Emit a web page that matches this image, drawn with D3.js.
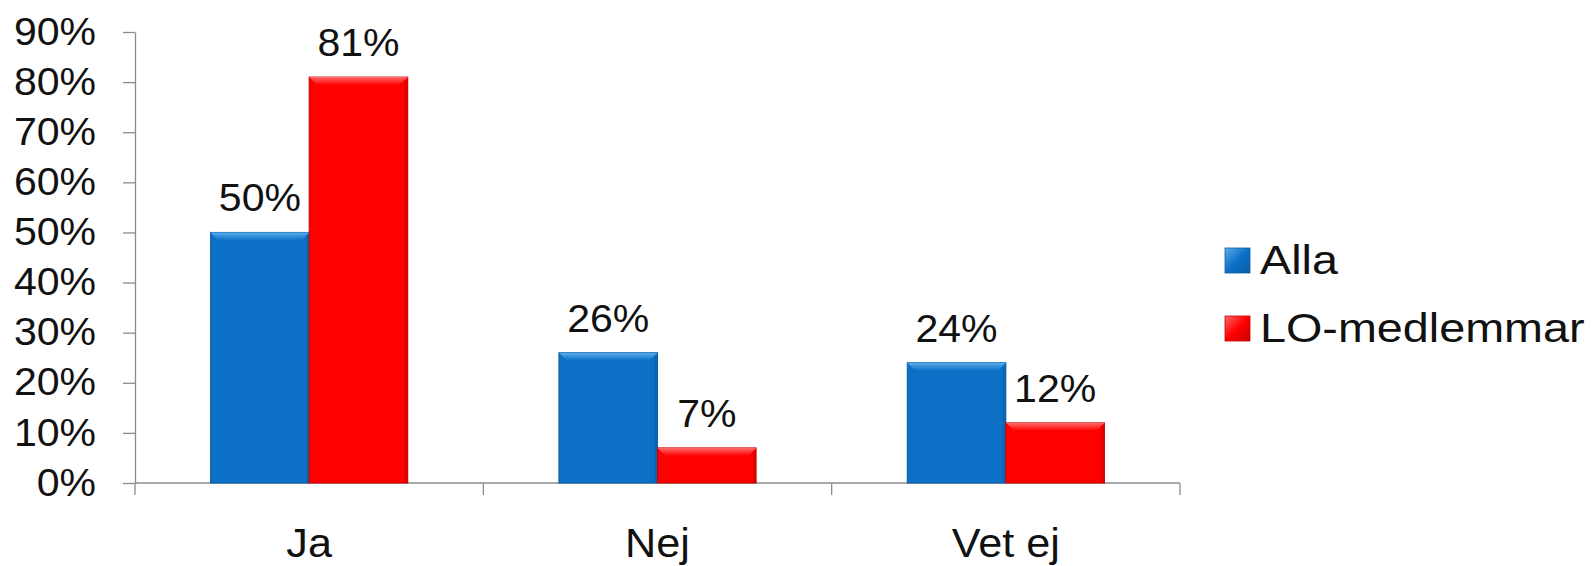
<!DOCTYPE html>
<html>
<head>
<meta charset="utf-8">
<script src="https://cdn.jsdelivr.net/npm/d3@7"></script>
<style>
  body { margin: 0; background: #fff; }
  svg text { font-family: "Liberation Sans", Arial, sans-serif; fill: #111; }
</style>
</head>
<body>
<div id="chart"></div>
<script>
// data
var categories = ["Ja", "Nej", "Vet ej"];
var series_names = ["Alla", "LO-medlemmar"];
var alla = [0.50, 0.26, 0.24];
var lo = [0.81, 0.07, 0.12];
var y_ticks = [0, 0.1, 0.2, 0.3, 0.4, 0.5, 0.6, 0.7, 0.8, 0.9];

var svg_width = 1596;
var svg_height = 566;

var colors = { "Alla": "#0B70C6", "LO-medlemmar": "#FF0000" };
var light = { "Alla": "#5BAEEB", "LO-medlemmar": "#FF6A6A" };
var dark = { "Alla": "#0A5DA6", "LO-medlemmar": "#C80000" };

var plot = { left: 135, right: 1180, top: 32, bottom: 483 };
var stretch = 1.08; // the source text is a little wider than the font

var svg = d3.select("#chart")
    .append("svg")
    .attr("width", svg_width)
    .attr("height", svg_height);

var defs = svg.append("defs");
series_names.forEach(function(s, i) {
    var g = defs.append("linearGradient")
        .attr("id", "bevel" + i)
        .attr("x1", 0).attr("y1", 0).attr("x2", 0).attr("y2", 1);
    g.append("stop").attr("offset", "0%").attr("stop-color", light[s]);
    g.append("stop").attr("offset", "100%").attr("stop-color", colors[s]);
    var lg = defs.append("linearGradient")
        .attr("id", "legend" + i)
        .attr("x1", 0).attr("y1", 0).attr("x2", 1).attr("y2", 1);
    lg.append("stop").attr("offset", "0%").attr("stop-color", light[s]);
    lg.append("stop").attr("offset", "50%").attr("stop-color", colors[s]);
    lg.append("stop").attr("offset", "100%").attr("stop-color", dark[s]);
});

// scales
var x0 = d3.scaleBand()
    .domain(categories)
    .range([plot.left, plot.right])
    .paddingInner(0.434)
    .paddingOuter(0.217);

var x1 = d3.scaleBand()
    .domain(series_names)
    .range([0, x0.bandwidth()]);

var y = d3.scaleLinear()
    .domain([0, 0.9])
    .range([plot.bottom, plot.top]);

// y axis
var left_axis = d3.axisLeft(y)
    .tickValues(y_ticks)
    .tickFormat(d3.format(".0%"))
    .tickSize(12)
    .tickSizeOuter(0)
    .tickPadding(28);

var y_axis = svg.append("g")
    .attr("transform", `translate(${plot.left},0)`)
    .call(left_axis);

y_axis.select(".domain").attr("stroke", "#8c8c8c").attr("stroke-width", 1.3);
y_axis.selectAll(".tick line").attr("stroke", "#8c8c8c").attr("stroke-width", 1.3);
y_axis.selectAll(".tick text")
    .attr("font-size", 38)
    .attr("fill", "#111")
    .attr("x", -39 / stretch)
    .attr("transform", `scale(${stretch},1)`);

// x axis line and category boundary ticks
var step = x0.step();
var gap = step * x0.paddingInner();
var bounds = categories.map(c => x0(c) - gap / 2);
bounds.push(x0(categories[categories.length - 1]) + x0.bandwidth() + gap / 2);

svg.append("line")
    .attr("x1", plot.left).attr("x2", plot.right)
    .attr("y1", y(0)).attr("y2", y(0))
    .attr("stroke", "#8c8c8c").attr("stroke-width", 1.3);

svg.selectAll(".cat-tick")
    .data(bounds)
    .enter()
    .append("line")
    .attr("class", "cat-tick")
    .attr("x1", d => d).attr("x2", d => d)
    .attr("y1", y(0)).attr("y2", y(0) + 12)
    .attr("stroke", "#8c8c8c").attr("stroke-width", 1.3);

// category labels
svg.selectAll(".cat-label")
    .data(categories)
    .enter()
    .append("text")
    .attr("class", "cat-label")
    .attr("transform", d => `translate(${x0(d) + x0.bandwidth() / 2},557) scale(${stretch},1)`)
    .attr("text-anchor", "middle")
    .attr("font-size", 40)
    .text(d => d);

// bars
var rows = [];
categories.forEach(function(c, i) {
    rows.push({ cat: c, series: "Alla", idx: 0, value: alla[i] });
    rows.push({ cat: c, series: "LO-medlemmar", idx: 1, value: lo[i] });
});

var bars = svg.selectAll(".bar")
    .data(rows)
    .enter()
    .append("g")
    .attr("class", "bar");

var bev = 8;

bars.append("rect")
    .attr("x", d => x0(d.cat) + x1(d.series))
    .attr("y", d => y(d.value))
    .attr("width", x1.bandwidth())
    .attr("height", d => y(0) - y(d.value))
    .attr("fill", d => colors[d.series])
    .attr("stroke", d => dark[d.series])
    .attr("stroke-width", 1);

// top bevel
bars.append("path")
    .attr("d", function(d) {
        var bx = x0(d.cat) + x1(d.series);
        var by = y(d.value);
        var w = x1.bandwidth();
        var b = Math.min(bev, (y(0) - by) / 2);
        return `M${bx},${by}L${bx + w},${by}L${bx + w - b},${by + b}L${bx + b},${by + b}Z`;
    })
    .attr("fill", d => `url(#bevel${d.idx})`);

// right edge shade
bars.append("rect")
    .attr("x", d => x0(d.cat) + x1(d.series) + x1.bandwidth() - 3)
    .attr("y", d => y(d.value) + 3)
    .attr("width", 3)
    .attr("height", d => Math.max(0, y(0) - y(d.value) - 3))
    .attr("fill", d => dark[d.series])
    .attr("opacity", 0.6);

// value labels
svg.selectAll(".value-label")
    .data(rows)
    .enter()
    .append("text")
    .attr("class", "value-label")
    .attr("transform", d => `translate(${x0(d.cat) + x1(d.series) + x1.bandwidth() / 2},${y(d.value) - 21}) scale(${stretch},1)`)
    .attr("text-anchor", "middle")
    .attr("font-size", 38)
    .text(d => d3.format(".0%")(d.value));

// legend
var legend = svg.selectAll(".legend")
    .data(series_names)
    .enter()
    .append("g")
    .attr("class", "legend")
    .attr("transform", (d, i) => `translate(1225,${248 + i * 68})`);

legend.append("rect")
    .attr("width", 25)
    .attr("height", 25)
    .attr("fill", (d, i) => `url(#legend${i})`)
    .attr("stroke", d => dark[d])
    .attr("stroke-width", 0.8);

legend.append("text")
    .attr("transform", `translate(35,26) scale(1.14,1)`)
    .attr("font-size", 41)
    .text(d => d);
</script>
</body>
</html>
